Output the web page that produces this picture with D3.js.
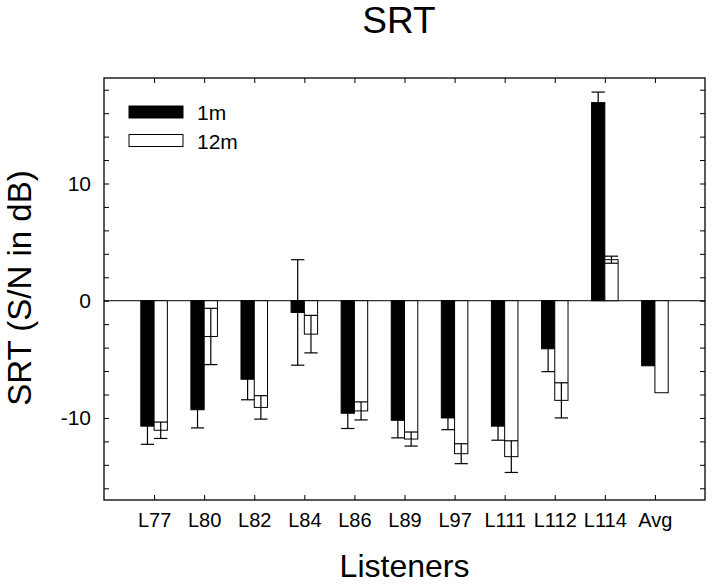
<!DOCTYPE html>
<html>
<head>
<meta charset="utf-8">
<script src="https://cdn.jsdelivr.net/npm/d3@7"></script>
<style>
    body { margin: 0; background: #fff; }
    svg { display: block; font-family: "Liberation Sans", Arial, sans-serif; }
</style>
</head>
<body>
<div id="chart"></div>
<script>
// listeners on the x axis
const listeners = ['L77', 'L80', 'L82', 'L84', 'L86', 'L89', 'L97', 'L111', 'L112', 'L114', 'Avg'];

// SRT means (dB) and error bar half-widths, per distance
const srt1m = [-10.7, -9.3, -6.7, -1.0, -9.6, -10.2, -10.0, -10.7, -4.1, 16.9, -5.55];
const err1m = [1.55, 1.55, 1.75, 4.5, 1.3, 1.5, 1.0, 1.2, 1.95, 0.9, null];
const srt12m = [-11.05, -3.05, -9.1, -2.85, -9.4, -11.8, -13.05, -13.3, -8.5, 3.5, -7.85];
const err12m = [0.7, 2.4, 1.0, 1.6, 0.77, 0.6, 0.85, 1.35, 1.5, 0.3, null];

const yTickLabels = [-10, 0, 10];
const yMinorTicks = d3.range(-16, 19, 2);

const series = [
    { name: '1m', values: srt1m, errors: err1m, fill: '#000', offset: -1 },
    { name: '12m', values: srt12m, errors: err12m, fill: '#fff', offset: 0 }
];

const config = {
    width: 714,
    height: 586,
    margin: { top: 78, right: 9, bottom: 86, left: 104 },
    barWidth: 0.265,
    tickLen: 5
};

const width = config.width - config.margin.left - config.margin.right;
const height = config.height - config.margin.top - config.margin.bottom;

const svg = d3.select('#chart')
    .append('svg')
    .attr('width', config.width)
    .attr('height', config.height);

const chart = svg.append('g')
    .attr('transform', `translate(${config.margin.left},${config.margin.top})`);

const xScale = d3.scaleLinear()
    .domain([0, listeners.length + 1])
    .range([0, width]);

const yScale = d3.scaleLinear()
    .domain([-17, 19])
    .range([height, 0]);

// axes with inward ticks
const xPositions = listeners.map((d, i) => i + 1);

const xAxis = d3.axisBottom(xScale)
    .tickValues(xPositions)
    .tickFormat((d, i) => listeners[i])
    .tickSizeInner(-config.tickLen)
    .tickSizeOuter(0)
    .tickPadding(13);

const xAxisTop = d3.axisTop(xScale)
    .tickValues(xPositions)
    .tickFormat('')
    .tickSizeInner(-config.tickLen)
    .tickSizeOuter(0);

const yAxis = d3.axisLeft(yScale)
    .tickValues(yMinorTicks)
    .tickFormat(d => yTickLabels.includes(d) ? d : '')
    .tickSizeInner(-config.tickLen)
    .tickSizeOuter(0)
    .tickPadding(13);

const yAxisRight = d3.axisRight(yScale)
    .tickValues(yMinorTicks)
    .tickFormat('')
    .tickSizeInner(-config.tickLen)
    .tickSizeOuter(0);

// zero reference line
chart.append('line')
    .attr('x1', 0)
    .attr('x2', width)
    .attr('y1', yScale(0))
    .attr('y2', yScale(0))
    .attr('stroke', '#000')
    .attr('stroke-width', 1);

// bars
series.forEach(s => {
    chart.selectAll(`.bar-${s.name}`)
        .data(s.values)
        .join('rect')
        .attr('class', `bar-${s.name}`)
        .attr('x', (d, i) => xScale(i + 1 + s.offset * config.barWidth))
        .attr('width', xScale(config.barWidth) - xScale(0))
        .attr('y', d => yScale(Math.max(0, d)))
        .attr('height', d => Math.abs(yScale(d) - yScale(0)))
        .attr('fill', s.fill)
        .attr('stroke', '#000')
        .attr('stroke-width', 1);
});

// error bars
series.forEach(s => {
    const errData = s.values.map((v, i) => ({ v, e: s.errors[i], i })).filter(d => d.e != null);
    const g = chart.selectAll(`.err-${s.name}`)
        .data(errData)
        .join('g')
        .attr('class', `err-${s.name}`)
        .attr('stroke', '#000')
        .attr('stroke-width', 1.2);

    const cx = d => xScale(d.i + 1 + (s.offset + 0.5) * config.barWidth);
    const half = (xScale(config.barWidth) - xScale(0)) / 2;

    g.append('line')
        .attr('x1', cx).attr('x2', cx)
        .attr('y1', d => yScale(d.v + d.e))
        .attr('y2', d => yScale(d.v - d.e));
    g.append('line')
        .attr('x1', d => cx(d) - half).attr('x2', d => cx(d) + half)
        .attr('y1', d => yScale(d.v + d.e))
        .attr('y2', d => yScale(d.v + d.e));
    g.append('line')
        .attr('x1', d => cx(d) - half).attr('x2', d => cx(d) + half)
        .attr('y1', d => yScale(d.v - d.e))
        .attr('y2', d => yScale(d.v - d.e));
});

chart.append('g')
    .attr('class', 'axis x-axis')
    .attr('transform', `translate(0,${height})`)
    .call(xAxis);
chart.append('g')
    .attr('class', 'axis x-axis-top')
    .call(xAxisTop);
chart.append('g')
    .attr('class', 'axis y-axis')
    .call(yAxis);
chart.append('g')
    .attr('class', 'axis y-axis-right')
    .attr('transform', `translate(${width},0)`)
    .call(yAxisRight);

chart.selectAll('.axis path.domain').remove();
chart.selectAll('.axis line').attr('stroke', '#000');
chart.selectAll('.axis text')
    .attr('fill', '#000')
    .style('font-size', '20px')
    .style('font-family', '"Liberation Sans", Arial, sans-serif');
chart.selectAll('.y-axis text').style('font-size', '21px');

// frame
chart.append('rect')
    .attr('x', 0)
    .attr('y', 0)
    .attr('width', width)
    .attr('height', height)
    .attr('fill', 'none')
    .attr('stroke', '#000')
    .attr('stroke-width', 1.3);

// legend
const legend = chart.selectAll('.legend')
    .data(series)
    .join('g')
    .attr('class', 'legend')
    .attr('transform', (d, i) => `translate(25,${28 + i * 28.5})`);

legend.append('rect')
    .attr('width', 54)
    .attr('height', 12)
    .attr('fill', d => d.fill)
    .attr('stroke', '#000')
    .attr('stroke-width', 1);

legend.append('text')
    .attr('x', 68)
    .attr('y', 14)
    .style('font-size', '21px')
    .text(d => d.name);

// titles
svg.append('text')
    .attr('x', 399)
    .attr('y', 33)
    .attr('text-anchor', 'middle')
    .style('font-size', '37px')
    .text('SRT');

svg.append('text')
    .attr('x', config.margin.left + width / 2)
    .attr('y', 576.5)
    .attr('text-anchor', 'middle')
    .style('font-size', '32px')
    .text('Listeners');

svg.append('text')
    .attr('transform', `translate(31,${config.margin.top + height / 2 - 1}) rotate(-90)`)
    .attr('text-anchor', 'middle')
    .style('font-size', '33px')
    .text('SRT (S/N in dB)');
</script>
</body>
</html>
